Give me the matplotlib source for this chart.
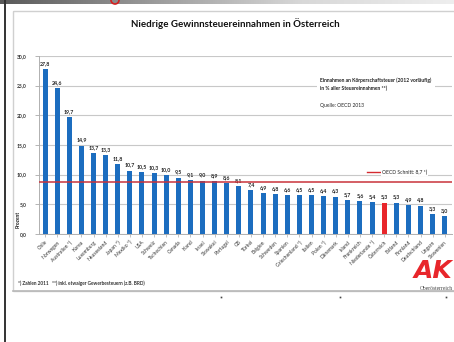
import matplotlib
matplotlib.use("Agg")
import matplotlib.pyplot as plt
import numpy as np
from matplotlib.patches import Rectangle, Ellipse
from matplotlib.lines import Line2D

plt.rcParams['font.family'] = ['Lato', 'DejaVu Sans']

countries = ["Chile", "Norwegen", "Australien *)", "Korea", "Luxemburg", "Neuseeland",
             "Japan *)", "Mexiko *)", "USA", "Schweiz", "Tschechien", "Canada", "Irland",
             "Israel", "Slowakei", "Portugal", "GB", "Türkei", "Belgien", "Schweden",
             "Spanien", "Griechenland *)", "Italien", "Polen *)", "Dänemark", "Island",
             "Frankreich", "Niederlande *)", "Österreich", "Estland", "Finnland",
             "Deutschland", "Ungarn", "Slowenien"]
values = [27.8, 24.6, 19.7, 14.9, 13.7, 13.3, 11.8, 10.7, 10.5, 10.3, 10.0, 9.5, 9.1,
          9.0, 8.9, 8.6, 8.1, 7.4, 6.9, 6.8, 6.6, 6.5, 6.5, 6.4, 6.3, 5.7, 5.6, 5.4,
          5.3, 5.3, 4.9, 4.8, 3.3, 3.0]
highlight = "Österreich"
oecd_avg = 8.7
yticks = [0, 5, 10, 15, 20, 25, 30]

W, H = 454, 342
fig = plt.figure(figsize=(W / 100, H / 100), dpi=100)

# background axes in pixel coordinates
bg = fig.add_axes([0, 0, 1, 1], zorder=-5)
bg.set_xlim(0, W)
bg.set_ylim(H, 0)
bg.axis("off")
# top gradient bar
grad = np.linspace(0, 1, 256).reshape(1, -1)
bg.imshow(grad, extent=[0, W, 4.5, 0], cmap=matplotlib.colors.LinearSegmentedColormap.from_list(
    "g", ["#5a5a5a", "#9a9a9a", "#d8d8d8", "#eeeeee"]), aspect="auto", zorder=1)
bg.add_patch(Ellipse((115, 0), 8, 8, fill=False, edgecolor="#d42020", lw=1.2, zorder=2))
bg.set_xlim(0, W)
bg.set_ylim(H, 0)
# left dark line
bg.add_line(Line2D([4.5, 4.5], [0, H], color="#333333", lw=1.4))
# panel border
bg.add_patch(Rectangle((13, 11), W, 280, fill=False, edgecolor="#d0d0d0", lw=1.0))
bg.add_line(Line2D([13, W], [291, 291], color="#b8b8b8", lw=1.2))
# dots below
for xd in [221, 340, 446]:
    bg.plot([xd], [297], marker="s", ms=1.2, color="#444444", mec="none")

bg.text(235, 24, "Niedrige Gewinnsteuereinnahmen in Österreich", ha="center", va="center",
        fontsize=7, fontweight="bold", color="#111111")
bg.text(18, 219, "Prozent", rotation=90, ha="center", va="center", fontsize=3.6,
        fontweight="bold", color="#222222")
bg.text(18, 283, "*) Zahlen 2011   **) inkl. etwaiger Gewerbesteuern (z.B. BRD)",
        ha="left", va="center", fontsize=3.4, fontweight="bold", color="#333333")
bg.text(452, 271, "AK", ha="right", va="center", fontsize=18, fontweight="bold",
        fontstyle="italic", color="#e8262b", family=["DejaVu Sans"])
bg.text(453, 288, "Oberösterreich", ha="right", va="center", fontsize=4.0,
        family=["Liberation Serif", "DejaVu Serif"], color="#444444")

# main axes
left_px, right_px, top_px, bot_px = 39, 452, 56, 234
ax = fig.add_axes([left_px / W, 1 - bot_px / H, (right_px - left_px) / W, (bot_px - top_px) / H])
ax.set_facecolor("none")
x = np.arange(len(countries))
colors = ["#e8262b" if c == highlight else "#1c6dbf" for c in countries]
ax.bar(x, values, width=0.42, color=colors, zorder=3)
for xi, v in zip(x, values):
    ax.text(xi, v + 0.5, f"{v:.1f}".replace(".", ","), ha="center", va="bottom",
            fontsize=3.8, fontweight="bold", color="#222222", zorder=4)
ax.axhline(oecd_avg, color="#c9333a", lw=1.1, zorder=5)

ax.set_xlim(-0.5, 33.6)
ax.set_ylim(0, 30)
ax.set_yticks(yticks)
ax.set_yticklabels([f"{t:.1f}".replace(".", ",") for t in yticks], fontsize=3.6,
                   fontweight="bold", color="#333333")
ax.set_xticks(x)
ax.set_xticklabels(countries, rotation=45, ha="right", rotation_mode="anchor",
                   fontsize=3.6, color="#333333")
ax.tick_params(axis="y", length=3, width=0.6, color="#aaaaaa", pad=6)
ax.tick_params(axis="x", length=2, width=0.5, color="#aaaaaa", pad=2)
ax.grid(axis="y", color="#c8c8c8", lw=0.8, zorder=0)
for s in ["top", "right"]:
    ax.spines[s].set_visible(False)
ax.spines["left"].set_color("#b0b0b0")
ax.spines["bottom"].set_color("#b0b0b0")
ax.spines["left"].set_linewidth(0.7)
ax.spines["bottom"].set_linewidth(0.7)

# annotation box
ax.text(22.7, 25.3, "Einnahmen an Körperschaftsteuer (2012 vorläufig)\nin % aller Steuereinnahmen **)",
        ha="left", va="center", fontsize=3.6, fontweight="bold", color="#222222",
        linespacing=1.6, zorder=6,
        bbox=dict(facecolor="white", edgecolor="none", pad=2.5))
ax.text(22.7, 21.6, "Quelle: OECD 2013", ha="left", va="center", fontsize=3.6,
        color="#222222", zorder=6)
# legend
ax.plot([26.6, 27.7], [10.4, 10.4], color="#d42a30", lw=1.0, zorder=7, clip_on=False)
ax.text(27.8, 10.4, "OECD Schnitt: 8,7 *)", ha="left", va="center", fontsize=3.6,
        color="#222222", zorder=7, bbox=dict(facecolor="white", edgecolor="none", pad=0.5))

fig.savefig("out.png", dpi=100, facecolor="white")
